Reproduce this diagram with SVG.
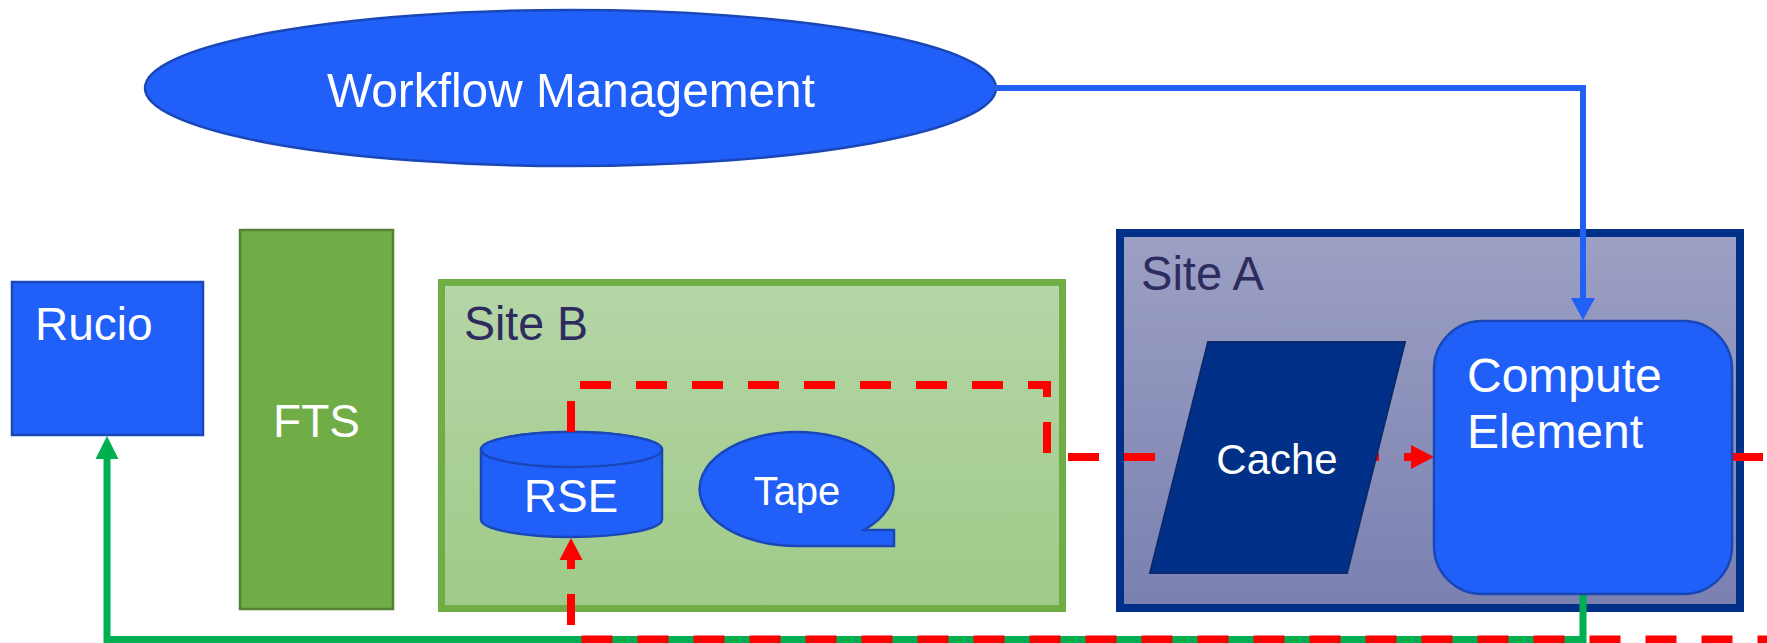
<svg xmlns="http://www.w3.org/2000/svg" width="1767" height="643" viewBox="0 0 1767 643">
<style>
.lbl{font-family:"Liberation Sans",Arial,sans-serif;fill:#ffffff}
.site{font-family:"Liberation Sans",Arial,sans-serif;fill:#2e2b5f}
.blue{fill:#215ff9;stroke:#1a47b8;stroke-width:2.5}
.red{fill:none;stroke:#ff0000;stroke-width:8;stroke-dasharray:31 25}
</style>
<defs>
<linearGradient id="gA" x1="0" y1="0" x2="0" y2="1"><stop offset="0" stop-color="#9ca0c4"/><stop offset="1" stop-color="#7a80b0"/></linearGradient>
<linearGradient id="gB" x1="0" y1="0" x2="0" y2="1"><stop offset="0" stop-color="#b5d6a7"/><stop offset="1" stop-color="#9fca88"/></linearGradient>
</defs>
<rect width="1767" height="643" fill="#ffffff"/>
<g id="siteB">
<rect x="441.5" y="282.5" width="621" height="326" fill="url(#gB)" stroke="#70ad47" stroke-width="7"/>
<text class="site" x="464" y="340" font-size="48" textLength="124" lengthAdjust="spacingAndGlyphs">Site B</text>
</g>
<g id="siteA">
<rect x="1120" y="233" width="620" height="375" fill="url(#gA)" stroke="#003087" stroke-width="8"/>
<text class="site" x="1141" y="290" font-size="48" textLength="123" lengthAdjust="spacingAndGlyphs">Site A</text>
</g>
<g id="rucio">
<rect class="blue" x="12" y="282" width="191" height="153"/>
<text class="lbl" x="35" y="340" font-size="46">Rucio</text>
</g>
<g id="fts">
<rect x="240" y="230" width="153" height="379" fill="#70ad47" stroke="#548235" stroke-width="2.5"/>
<text class="lbl" x="316.5" y="437" font-size="46" text-anchor="middle">FTS</text>
</g>
<g id="workflow">
<ellipse class="blue" cx="570.5" cy="88" rx="425.5" ry="78"/>
<text class="lbl" x="571" y="107" font-size="49" text-anchor="middle" textLength="488" lengthAdjust="spacingAndGlyphs">Workflow Management</text>
</g>
<g id="rse">
<path class="blue" d="M481,449.5 V519.5 A90.5,17.5 0 0 0 662,519.5 V449.5 A90.5,17.5 0 0 0 481,449.5 Z"/>
<ellipse class="blue" cx="571.5" cy="449.5" rx="90.5" ry="17.5"/>
<text class="lbl" x="571" y="512" font-size="46" text-anchor="middle">RSE</text>
</g>
<g id="tape">
<path class="blue" d="M797,546 A97,57 0 1 1 864,530 L894,530 L894,546 Z"/>
<text class="lbl" x="797" y="505" font-size="40" text-anchor="middle">Tape</text>
</g>
<g id="connectors">
<path d="M990,88 H1583 V298" fill="none" stroke="#2160f5" stroke-width="6"/>
<polygon points="1571,298 1595,298 1583,320" fill="#2160f5"/>
<path d="M1583,594 V639.5 H107 V459" fill="none" stroke="#00b050" stroke-width="7"/>
<polygon points="95.5,459 118.5,459 107,436" fill="#00b050"/>
<path class="red" d="M571,432 V385 H1047 V457 H1411"/>
<polygon points="1411,445 1411,469 1434,457" fill="#ff0000"/>
<path class="red" d="M571,560 V639.5 H1800" stroke-dashoffset="22"/>
<polygon points="559.5,560 582.5,560 571,538" fill="#ff0000"/>
<path class="red" d="M1732,457 H1800"/>
</g>
<g id="cache">
<polygon points="1208,342 1405,342 1347,573 1150,573" fill="#003087" stroke="#0b2a6e" stroke-width="2"/>
<text class="lbl" x="1277" y="474" font-size="42" text-anchor="middle">Cache</text>
</g>
<g id="compute">
<rect class="blue" x="1434" y="321" width="298" height="273" rx="48" ry="48"/>
<text class="lbl" x="1467" y="392" font-size="48">Compute</text>
<text class="lbl" x="1467" y="448" font-size="48">Element</text>
</g>
</svg>
